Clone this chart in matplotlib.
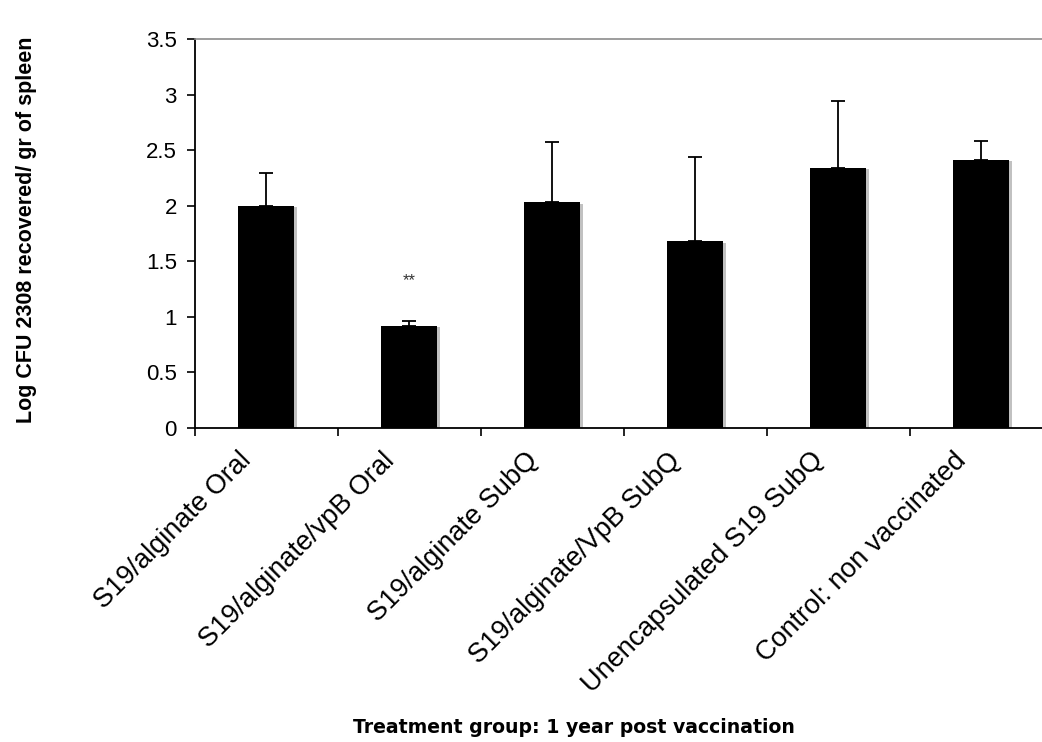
import numpy as np
import matplotlib.pyplot as plt
import matplotlib.patheffects as pe
from matplotlib.transforms import ScaledTranslation

groups = ['S19/alginate Oral', 'S19/alginate/vpB Oral', 'S19/alginate SubQ',
          'S19/alginate/VpB SubQ', 'Unencapsulated S19 SubQ', 'Control: non vaccinated']
means = np.array([2.00, 0.92, 2.03, 1.68, 2.34, 2.41])
err_up = np.array([0.29, 0.04, 0.54, 0.76, 0.60, 0.17])

plt.rcParams['font.family'] = ['Liberation Sans', 'DejaVu Sans']

fig = plt.figure(figsize=(10.42, 7.42), dpi=100)
ax = fig.add_axes([0.187, 0.4232, 0.8234, 0.5243])

x = np.arange(len(groups))
bars = ax.bar(x, means, width=0.39, color='black', zorder=2)
for b in bars:
    b.set_path_effects([pe.SimplePatchShadow(offset=(2, -1), shadow_rgbFace='0.6', alpha=0.6),
                        pe.Normal()])
ax.errorbar(x, means, yerr=[np.zeros_like(err_up), err_up], fmt='none',
            ecolor='black', elinewidth=1.3, capsize=5, capthick=1.3, zorder=3)
ax.text(x[1], 1.33, '**', ha='center', va='center', fontsize=12, color='0.2')

ax.set_xlim(-0.5, 5.5)
ax.set_ylim(0, 3.5)
ax.set_yticks(np.arange(0, 3.51, 0.5))
ax.set_yticklabels(['0', '0.5', '1', '1.5', '2', '2.5', '3', '3.5'], fontsize=16)
ax.set_xticks(x)
ax.set_xticklabels(groups, rotation=45, ha='right', va='top', rotation_mode='anchor', fontsize=19.5)
ax.tick_params(axis='x', which='major', length=0, pad=14)
ax.set_xticks(np.arange(-0.5, 5.6, 1), minor=True)
ax.tick_params(axis='x', which='minor', length=6, width=1.2, direction='out')
ax.tick_params(axis='y', length=6, width=1.2, direction='out', pad=7)
shift = ScaledTranslation(-28 / 100, 0, fig.dpi_scale_trans)
for lab in ax.get_xticklabels():
    lab.set_transform(lab.get_transform() + shift)

ax.spines['right'].set_visible(False)
ax.spines['top'].set_color('0.55')
ax.spines['top'].set_linewidth(1.2)
ax.spines['left'].set_linewidth(1.3)
ax.spines['bottom'].set_linewidth(1.3)

fig.text(0.025, 0.69, 'Log CFU 2308 recovered/ gr of spleen', rotation=90,
         ha='center', va='center', fontsize=15.5, fontweight='bold')
fig.text(0.551, 0.0202, 'Treatment group: 1 year post vaccination',
         ha='center', va='center', fontsize=13.6, fontweight='bold', family='DejaVu Sans')

fig.savefig('out.png', dpi=100)
